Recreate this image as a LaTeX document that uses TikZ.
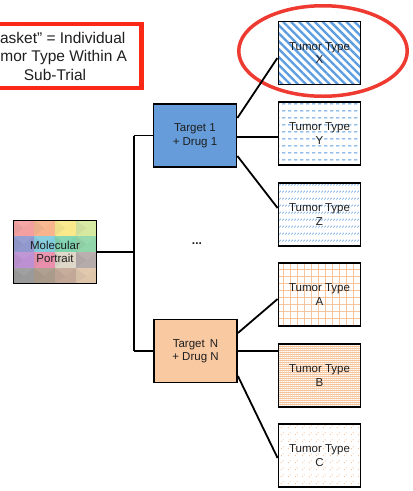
\documentclass[tikz,border=0pt]{standalone}
\usepackage{fontspec}
\setmainfont{Liberation Sans}
\usetikzlibrary{patterns,patterns.meta,calc}

\definecolor{pblue}{RGB}{92,156,224}
\definecolor{peach}{RGB}{246,196,156}
\definecolor{peachlt}{RGB}{252,232,214}
\definecolor{cdot}{RGB}{240,176,128}
\definecolor{t1fill}{RGB}{102,156,218}
\definecolor{tnfill}{RGB}{249,201,162}
\definecolor{boxred}{RGB}{250,40,20}
\definecolor{ellred}{RGB}{238,58,48}
\definecolor{txt}{RGB}{30,30,30}

\tikzdeclarepattern{
  name=hdash, type=colored,
  bounding box={(0pt,0pt) and (6pt,6.7pt)},
  tile size={(6pt,6.7pt)},
  code={\draw[pblue,line width=1pt] (0pt,3.35pt) -- (4pt,3.35pt);}
}
\tikzdeclarepattern{
  name=zticks, type=colored,
  bounding box={(0pt,0pt) and (3pt,7.3pt)},
  tile size={(3pt,7.3pt)},
  code={\draw[pblue,line width=0.7pt] (0.5pt,2.8pt) -- (2.2pt,4.5pt);}
}
\tikzdeclarepattern{
  name=pgrid, type=colored,
  bounding box={(0pt,0pt) and (7.4pt,7.4pt)},
  tile size={(7.4pt,7.4pt)},
  code={\draw[peach,line width=0.9pt] (0pt,3.7pt) -- (7.4pt,3.7pt) (3.7pt,0pt) -- (3.7pt,7.4pt);}
}
\tikzdeclarepattern{
  name=bdots, type=colored,
  bounding box={(0pt,0pt) and (2.4pt,2.4pt)},
  tile size={(2.4pt,2.4pt)},
  code={\fill[peachlt] (0pt,0pt) rectangle (1.2pt,1.2pt);}
}
\tikzdeclarepattern{
  name=cdots, type=colored,
  bounding box={(0pt,0pt) and (7pt,7pt)},
  tile size={(7pt,7pt)},
  code={\fill[cdot] (1.5pt,1.5pt) circle (0.6pt); \fill[cdot] (3.6pt,3.6pt) circle (0.6pt);}
}

\tikzset{
  tbox/.style={draw=black, line width=1.8pt, minimum width=82pt, minimum height=63pt,
    align=center, text=txt, font=\fontsize{11.5}{13.5}\selectfont, inner sep=0pt},
  conn/.style={draw=black, line width=1.8pt}
}

\begin{document}
\begin{tikzpicture}[x=1pt,y=-1pt]
\useasboundingbox (0,0) rectangle (413,491);
\clip (0,0) rectangle (413,491);

% molecular portrait mosaic
\foreach \c [count=\k from 0] in {F4A0A0,F8B48C,F9E98A,D6E9A0,
                                 9098CE,82CCDE,7ED4AE,90D6AA,
                                 BC90D2,EA90AC,DFD8C8,B4ABAA,
                                 9A9A9A,AA9A8A,C2A896,DEC6AA}{
  \pgfmathtruncatemacro\ii{mod(\k,4)}
  \pgfmathtruncatemacro\jj{div(\k,4)}
  \definecolor{cc}{HTML}{\c}
  \fill[cc] (13+21*\ii,220+16*\jj) rectangle ++(21,16);
  \fill[cc!90!gray] (13+21*\ii,220+16*\jj) -- ++(0,16) -- ++(10.5,-8) -- cycle;
  \fill[cc!94!white] (13+21*\ii,220+16*\jj) -- ++(21,0) -- ++(-10.5,8) -- cycle;
}
\node[tbox, minimum width=83pt, minimum height=63pt] (mp) at (55,252) {Molecular\\Portrait};

% targets
\node[tbox, fill=t1fill, minimum width=83pt] (t1) at (195,135.5) {Target 1\\+ Drug 1};
\node[tbox, fill=tnfill, minimum width=83pt] (tn) at (195.5,351) {Target\,\ N\\+ Drug N};

% tumor types
\node[tbox, pattern={Lines[angle=-45,distance=5.6pt,line width=2.3pt]}, pattern color=pblue] (x) at (319.5,53) {};
\node[tbox, pattern=hdash] (y) at (319.5,133.5) {};
\node[tbox, pattern=zticks] (z) at (319.5,214.5) {};
\node[tbox, pattern=pgrid] (a) at (319.5,294.5) {};
\node[tbox, preaction={fill=peach}, pattern=bdots] (b) at (319.5,375.5) {};
\node[tbox, pattern=cdots] (c) at (319.5,455.5) {};

% text on top of patterns
\foreach \n/\l in {x/X,y/Y,z/Z,a/A,b/B,c/C}{
  \node[align=center, text=txt, font=\fontsize{11.5}{13.5}\selectfont, inner sep=0pt] (\n-label) at (\n) {Tumor Type\\\l};
}

% ellipse highlight
\draw[ellred, line width=3.5pt] (323,51) ellipse [x radius=84.25, y radius=45.25];

% basket label
\node[draw=boxred, line width=4.5pt, minimum width=173pt, minimum height=64pt, align=center,
      text=txt, font=\fontsize{15.5}{18.5}\selectfont, inner sep=0pt] (basket) at (55,56)
      {“Basket” = Individual\\Tumor Type Within A\\Sub-Trial};

% dots
\node[font=\bfseries\fontsize{12}{14}\selectfont, text=txt] (dots) at (197,244) {...};

% connectors
\coordinate (trunk) at (134,252);
\draw[conn] (mp.east) -- (trunk);
\draw[conn] (t1.west -| trunk) -- (tn.west -| trunk);
\draw[conn] (t1.west -| trunk) -- (t1.west);
\draw[conn] (tn.west -| trunk) -- (tn.west);

\draw[conn] ([yshift=17.5pt]t1.east) -- ([yshift=-5pt]x.west);
\draw[conn] ([yshift=-1.5pt]t1.east) -- ([yshift=-1.5pt]t1.east -| y.west);
\draw[conn] ([yshift=-20.5pt]t1.east) -- ([yshift=6.5pt]z.west);

\draw[conn] ([yshift=18pt]tn.east) -- ([yshift=-4.5pt]a.west);
\draw[conn] (tn.east) -- (tn.east -| b.west);
\draw[conn] ([yshift=-25pt]tn.east) -- ([yshift=-2.5pt]c.west);
\end{tikzpicture}
\end{document}
